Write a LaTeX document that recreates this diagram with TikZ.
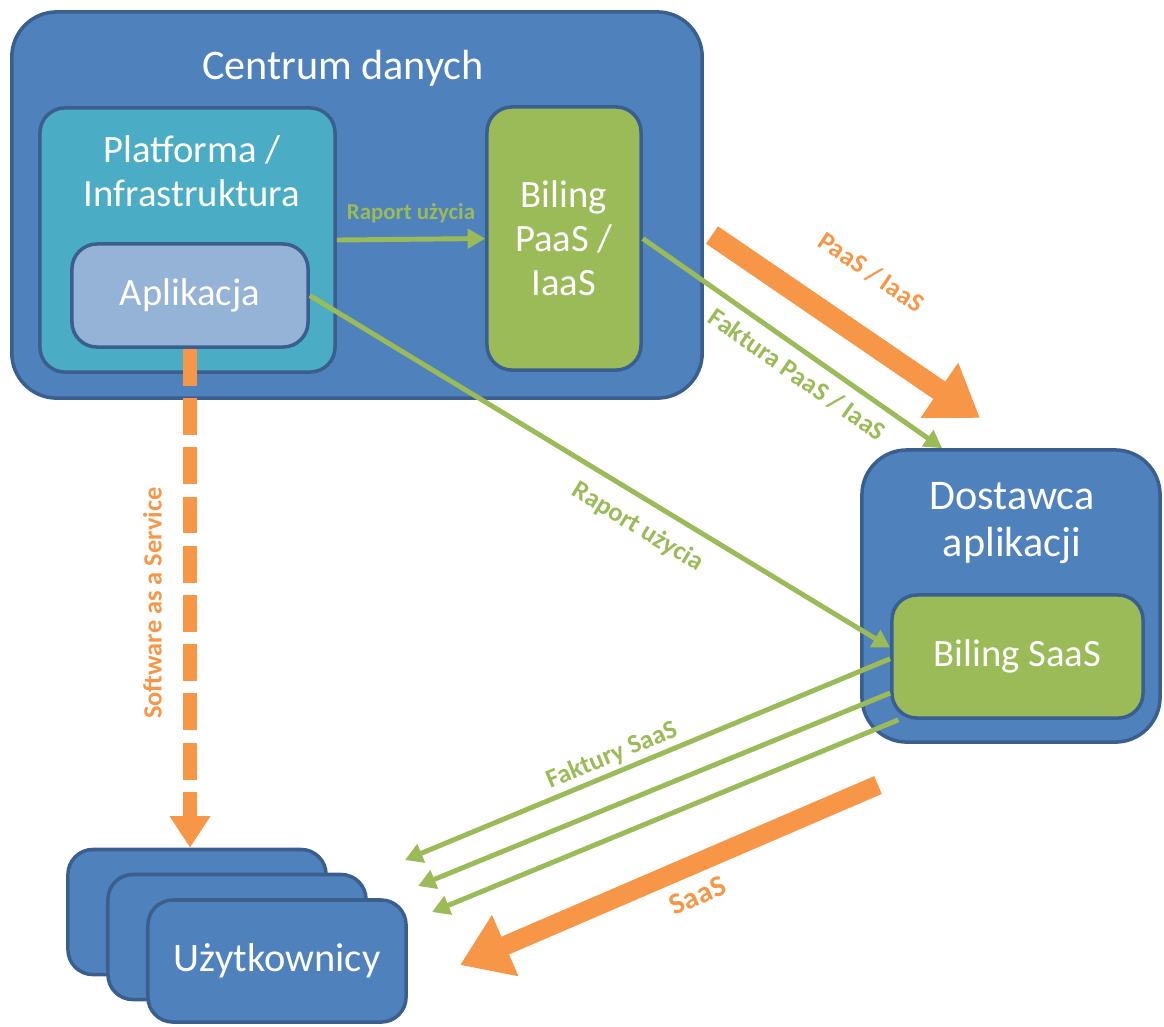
\documentclass[tikz,border=0pt]{standalone}
\usepackage{fontspec}
\setmainfont{Carlito}
\usepackage{xcolor}
\usetikzlibrary{arrows.meta,positioning}
\definecolor{boxblue}{HTML}{4F81BD}
\definecolor{edgeblue}{HTML}{3A5F8F}
\definecolor{platteal}{HTML}{4BACC6}
\definecolor{appblue}{HTML}{95B3D7}
\definecolor{billgreen}{HTML}{9BBB59}
\definecolor{flowgreen}{HTML}{9BBB59}
\definecolor{flowora}{HTML}{F79646}

\begin{document}
\begin{tikzpicture}[x=0.01cm, y=-0.01cm,
bigbox/.style={draw=edgeblue, line width=1pt, fill=boxblue, rounded corners=4.5mm, inner sep=0pt},
innerbox/.style={draw=edgeblue, line width=1pt, rounded corners=2.5mm, inner sep=0pt, text=white, align=center, font=\fontsize{11}{12.5}\selectfont},
boxtitle/.style={text=white, align=center, inner sep=0pt},
greenarr/.style={draw=flowgreen, line width=1.4pt, -{Triangle[length=5pt,width=5.5pt]}},
orangearr/.style={draw=flowora, line width=6pt, -{Triangle[length=14pt,width=18pt]}},
greenlbl/.style={text=flowgreen, font=\fontsize{7.5}{8}\selectfont\bfseries, inner sep=1pt},
orangelbl/.style={text=flowora, font=\fontsize{7.5}{8}\selectfont\bfseries, inner sep=1pt}
]
\useasboundingbox (0,0) rectangle (1164,1026);

% Data centre
\node[bigbox, minimum width=6.9cm, minimum height=3.86cm] (centrum) at (357,205) {};
\node[boxtitle, font=\fontsize{12}{14}\selectfont] (centrumtxt) at (343,68) {Centrum danych};
\node[innerbox, fill=platteal, minimum width=2.95cm, minimum height=2.64cm] (platforma) at (187.5,240) {};
\node[boxtitle, font=\fontsize{11}{12.5}\selectfont] (platformatxt) at (192,171) {Platforma /\\Infrastruktura};
\node[innerbox, fill=appblue, minimum width=2.36cm, minimum height=1.03cm] (aplikacja) at (190,295.5) {Aplikacja};
\node[innerbox, fill=billgreen, minimum width=1.54cm, minimum height=2.63cm] (bilpaas) at (564,238.5) {Biling\\PaaS /\\IaaS};

% Application provider
\node[bigbox, minimum width=2.98cm, minimum height=2.92cm] (dostawca) at (1011,596) {};
\node[boxtitle, font=\fontsize{12}{13.5}\selectfont] (dostawcatxt) at (1012,523) {Dostawca\\aplikacji};
\node[innerbox, fill=billgreen, minimum width=2.51cm, minimum height=1.23cm] (bilsaas) at (1017.5,656.5) {Biling SaaS};

% Users (stacked)
\node[bigbox, rounded corners=2.5mm, minimum width=2.58cm, minimum height=1.25cm] (user1) at (197,912) {};
\node[bigbox, rounded corners=2.5mm, minimum width=2.58cm, minimum height=1.25cm] (user2) at (237,937) {};
\node[bigbox, rounded corners=2.5mm, minimum width=2.58cm, minimum height=1.22cm, text=white, font=\fontsize{11.5}{13}\selectfont] (user3) at (277,961) {Użytkownicy};

% Free ends
\coordinate (paasfrom) at (712,235);
\coordinate (paasto) at (980,418);
\coordinate (saasfrom) at (878,785);
\coordinate (saasto) at (460,965);
\coordinate (inv1) at (405,860);
\coordinate (inv2) at (418,886);
\coordinate (inv3) at (432,912);

% Usage reports and invoices
\draw[greenarr] (platforma.east) -- node[greenlbl, above=3pt, font=\fontsize{6.5}{7}\selectfont\bfseries] {Raport użycia} (bilpaas.west);
\draw[greenarr] (aplikacja.east) -- node[greenlbl, sloped, below=3pt, pos=0.59] {Raport użycia} (bilsaas.176);
\draw[greenarr] (bilpaas.east) -- node[greenlbl, sloped, below=2pt, pos=0.56] {Faktura PaaS / IaaS} (dostawca.115);
\draw[greenarr] (bilsaas.181) -- node[greenlbl, sloped, above=0pt, pos=0.56] {Faktury SaaS} (inv1);
\draw[greenarr] (bilsaas.196) -- (inv2);
\draw[greenarr] (bilsaas.208) -- (inv3);

% Services
\draw[orangearr] (paasfrom) -- node[orangelbl, sloped, above=10pt, pos=0.47] {PaaS / IaaS} (paasto);
\draw[orangearr, line width=5.5pt] (saasfrom) -- node[orangelbl, sloped, below=2pt, pos=0.46, font=\fontsize{8.5}{9}\selectfont\bfseries] {SaaS} (saasto);
\draw[draw=flowora, line width=4pt, dash pattern=on 10.5pt off 3.5pt, -{Triangle[length=9pt,width=11pt]}] (aplikacja.south) -- node[orangelbl, rotate=90, anchor=south, inner sep=6pt, pos=0.51] {Software as a Service} (aplikacja.south |- user1.north);
\end{tikzpicture}
\end{document}
